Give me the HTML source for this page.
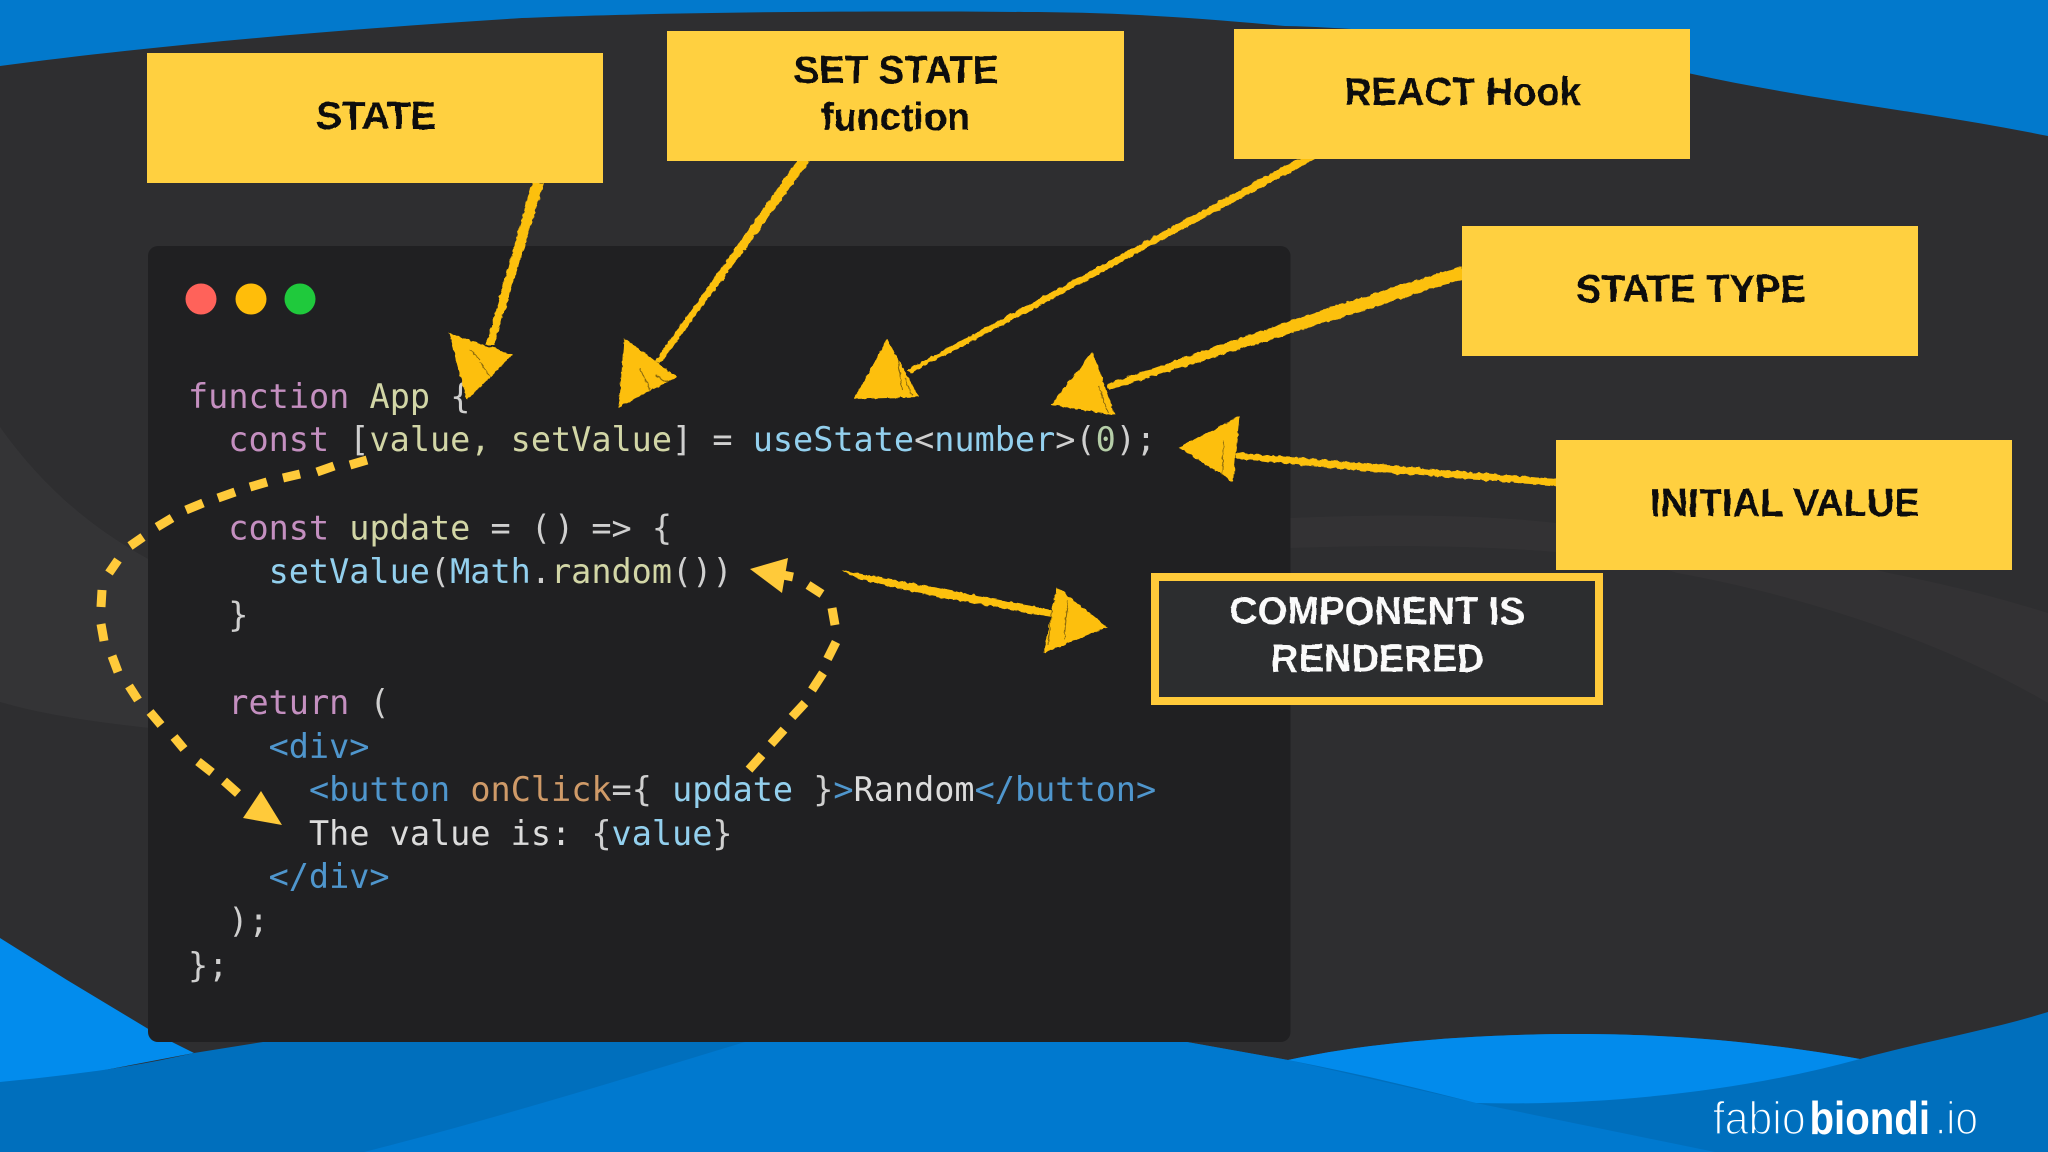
<!DOCTYPE html>
<html lang="en">
<head>
<meta charset="utf-8">
<title>React useState diagram</title>
<style>
html,body{margin:0;padding:0;width:2048px;height:1152px;overflow:hidden;background:#2e2e30}
svg{display:block}
.code{font-family:"DejaVu Sans Mono","Liberation Mono",monospace;font-size:33.5px;white-space:pre}
.lab{font-family:"Liberation Sans Narrow","Liberation Sans",sans-serif;font-weight:700;font-size:39px;fill:#0b0b0b}
.labw{font-family:"Liberation Sans Narrow","Liberation Sans",sans-serif;font-weight:700;font-size:39px;fill:#fafafa}
.k{fill:#c48fc0}.i{fill:#d2d6a6}.b{fill:#93d0ee}.t{fill:#4f96cd}.p{fill:#cfcfcf}.o{fill:#cf9a68}.w{fill:#dcdcdc}.n{fill:#b5cea8}
.logo{font-family:"Liberation Sans",sans-serif;font-size:46px;fill:#fff}
</style>
</head>
<body>
<svg width="2048" height="1152" viewBox="0 0 2048 1152" xmlns="http://www.w3.org/2000/svg">
  <defs>
    <filter id="rough" x="-5%" y="-5%" width="110%" height="110%">
      <feTurbulence type="fractalNoise" baseFrequency="0.18" numOctaves="2" seed="4" result="n"/>
      <feDisplacementMap in="SourceGraphic" in2="n" scale="4" xChannelSelector="R" yChannelSelector="G"/>
    </filter>
    <filter id="wobble" x="-5%" y="-10%" width="110%" height="120%">
      <feTurbulence type="fractalNoise" baseFrequency="0.07" numOctaves="2" seed="9" result="n"/>
      <feDisplacementMap in="SourceGraphic" in2="n" scale="3.500" xChannelSelector="R" yChannelSelector="G"/>
    </filter>
  </defs>

  <!-- background -->
  <rect width="2048" height="1152" fill="#2e2e30"/>
  <path d="M0,0H2048V136C1930,112 1810,100 1690,73.500C1560,45 1380,28 1285,26C1180,16 1100,12 1024,12C800,10 620,14 522,18C330,30 150,46 0,66Z" fill="#0279cc"/>
  <path d="M0,427C45,490 95,530 150,560V728C95,722 45,715 0,702Z" fill="#343436"/>
  <path d="M1290,518C1380,514 1480,514 1556,523C1700,535 1800,550 1889,573C1950,585 2000,598 2048,613V703C1940,640 1800,595 1677,573C1620,555 1590,552 1556,552C1470,545 1380,545 1290,548Z" fill="#333234"/>

  <!-- bottom waves -->
  <path d="M0,938L67,980L150,1030L172,1042L194,1053L0,1090Z" fill="#028ced"/>
  <path d="M0,1082C70,1075 130,1068 194,1053L263,1042H1187L1288,1060C1380,1040 1490,1034 1577,1034C1690,1034 1780,1045 1860,1059C1930,1040 1990,1030 2048,1012V1152H0Z" fill="#006fbd"/>
  <path d="M745,1042C620,1080 490,1120 364,1152H1715L1476,1103L1288,1060L1187,1042Z" fill="#0079cf"/>
  <path d="M1288,1060C1380,1040 1490,1034 1577,1034C1690,1034 1780,1045 1860,1059C1740,1092 1600,1106 1476,1103C1410,1086 1350,1072 1288,1060Z" fill="#028bec"/>

  <!-- code window -->
  <rect x="148" y="246" width="1142.500" height="796" rx="10" fill="#202022"/>
  <circle cx="201" cy="299" r="15.500" fill="#ff625a"/>
  <circle cx="251" cy="299" r="15.500" fill="#ffbd0a"/>
  <circle cx="300" cy="299" r="15.500" fill="#1fc93c"/>

  <!-- code -->
  <g class="code" xml:space="preserve">
    <text x="188" y="408"><tspan class="k">function</tspan><tspan class="i"> App </tspan><tspan class="p">{</tspan></text>
    <text x="228.300" y="451"><tspan class="k">const</tspan><tspan class="p"> [</tspan><tspan class="i">value, setValue</tspan><tspan class="p">] = </tspan><tspan class="b">useState</tspan><tspan class="p">&lt;</tspan><tspan class="b">number</tspan><tspan class="p">&gt;(</tspan><tspan class="n">0</tspan><tspan class="p">);</tspan></text>
    <text x="228.300" y="539.500"><tspan class="k">const</tspan><tspan class="i"> update </tspan><tspan class="p">= (</tspan><tspan class="p" dx="3">)</tspan><tspan class="p" dx="-3"> =&gt; {</tspan></text>
    <text x="268.600" y="583"><tspan class="b">setValue</tspan><tspan class="p">(</tspan><tspan class="b">Math</tspan><tspan class="p">.</tspan><tspan class="i">random</tspan><tspan class="p">())</tspan></text>
    <text x="228.300" y="626.700" class="p">}</text>
    <text x="228.300" y="714"><tspan class="k">return</tspan><tspan class="p"> (</tspan></text>
    <text x="268.600" y="758" class="t">&lt;div&gt;</text>
    <text x="309" y="801"><tspan class="t">&lt;button </tspan><tspan class="o">onClick</tspan><tspan class="p">={ </tspan><tspan class="b">update</tspan><tspan class="p"> }</tspan><tspan class="t">&gt;</tspan><tspan class="w">Random</tspan><tspan class="t">&lt;/button&gt;</tspan></text>
    <text x="309" y="845.200"><tspan class="w">The value is: </tspan><tspan class="p">{</tspan><tspan class="b">value</tspan><tspan class="p">}</tspan></text>
    <text x="268.600" y="888" class="t">&lt;/div&gt;</text>
    <text x="228.300" y="932.700" class="p">);</text>
    <text x="188" y="977" class="p">};</text>
  </g>

  <!-- sketch arrows -->
  <g filter="url(#rough)">
    <g fill="#fcc010">
      <path d="M532,183L544,183L494,345L486,345Z"/>
      <path d="M797,161L810,161L660,364L655,361Z"/>
      <path d="M1297,159L1315,159L1024,314L911,373L907,370L1024,307Z"/>
      <path d="M1462,266V279L1337,319L1109,390L1107,384L1337,305Z"/>
      <path d="M1556,479V486L1350,470L1236,458.500V452.600L1350,462Z"/>
      <path d="M840,570L933,587L1052,610V617L933,596L862,580Z"/>
    </g>
    <g fill="#fdbf0d">
      <path d="M449,333L513,354.500L467,400Z"/>
      <path d="M624,338L677,377L619,407Z"/>
      <path d="M887,339L919,397L854,399Z"/>
      <path d="M1092.600,351.600L1115,415L1051,405Z"/>
      <path d="M1239.500,416L1233,482L1179,447.500Z"/>
      <path d="M1057,587L1107.600,627L1043.600,653Z"/>
    </g>
    <!-- brush texture -->
    <g stroke="#3a2d06" stroke-width="1" fill="none" opacity=".6">
      <path d="M480,362L490,376M470,350L480,360M655,375L668,382M640,368L650,390M905,378L912,396M898,360L902,390M1098,385L1108,412M1224,440L1222,478M1052,610L1048,645M1068,600L1064,640"/>
    </g>
  </g>

  <!-- dashed arrows -->
  <g stroke="#ffca3a" stroke-width="9" fill="none">
    <path d="M367,460L350,465M334,466L317,472M300,474L283,478M267,482L250,487M235,492L218,498M203,503L186,510M172,518L157,527M143,537L130,546M118,560L109,573M102,590L101,607M101,624L104,641M112,656L118,672M129,686L138,700M150,712L161,725M174,737L184,749M198,761.500L212,772.500M224,781L238,793.500"/>
    <path d="M749,769.600L762,755M771,744L784,729.600M792,717L805,703M812,690L823,673M827.500,659L836,642M835,625L832,608M822,594L808,585M793,577L783,575"/>
  </g>
  <path d="M261,791L282,825L243,818Z" fill="#ffca3a"/>
  <path d="M750,569L788,558L782,593Z" fill="#ffca3a"/>

  <!-- yellow boxes -->
  <g fill="#ffd040">
    <rect x="147" y="53" width="456" height="130"/>
    <rect x="667" y="31" width="457" height="130"/>
    <rect x="1234" y="29" width="456" height="130"/>
    <rect x="1462" y="226" width="456" height="130"/>
    <rect x="1556" y="440" width="456" height="130"/>
  </g>
  <rect x="1155" y="577" width="444" height="124" fill="#2c2d2f" stroke="#ffca3a" stroke-width="8"/>

  <!-- labels -->
  <g filter="url(#wobble)">
    <text class="lab" x="316" y="129" textLength="120" lengthAdjust="spacingAndGlyphs">STATE</text>
    <text class="lab" x="793.500" y="83" textLength="205" lengthAdjust="spacingAndGlyphs">SET STATE</text>
    <text class="lab" x="821" y="130" textLength="149" lengthAdjust="spacingAndGlyphs">function</text>
    <text class="lab" x="1344" y="105" textLength="237" lengthAdjust="spacingAndGlyphs">REACT Hook</text>
    <text class="lab" x="1576" y="302" textLength="230" lengthAdjust="spacingAndGlyphs">STATE TYPE</text>
    <text class="lab" x="1650" y="516" textLength="270" lengthAdjust="spacingAndGlyphs">INITIAL VALUE</text>
    <text class="labw" x="1230" y="624" textLength="295" lengthAdjust="spacingAndGlyphs">COMPONENT IS</text>
    <text class="labw" x="1271" y="671.500" textLength="213.500" lengthAdjust="spacingAndGlyphs">RENDERED</text>
  </g>

  <!-- logo -->
  <text class="logo" x="1712.700" y="1134" textLength="93" lengthAdjust="spacingAndGlyphs" stroke="#0072c2" stroke-width="1.600">fabio</text>
  <text class="logo" x="1809.500" y="1134" textLength="120.500" lengthAdjust="spacingAndGlyphs" font-weight="700">biondi</text>
  <text class="logo" x="1935" y="1134" textLength="43" lengthAdjust="spacingAndGlyphs" stroke="#006fbd" stroke-width="1.600">.io</text>
</svg>
</body>
</html>
